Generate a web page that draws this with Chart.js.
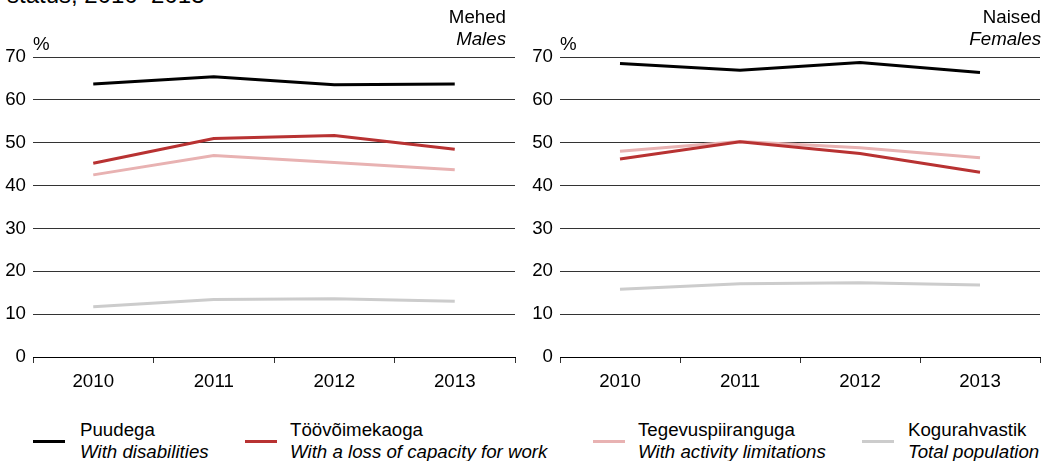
<!DOCTYPE html>
<html>
<head>
<meta charset="utf-8">
<script src="https://cdn.jsdelivr.net/npm/chart.js@4/dist/chart.umd.min.js"></script>
<style>
  html, body { margin: 0; padding: 0; background: #fff; }
  body { width: 1054px; height: 461px; position: relative; overflow: hidden;
         font-family: 'Liberation Sans', Arial, Helvetica, sans-serif; color: #000; }
  canvas { position: absolute; top: 0; }
  .title { position: absolute; left: 7px; top: -19px; font-size: 24px; line-height: 28px; white-space: nowrap; }
  .hdr { position: absolute; font-size: 18.7px; line-height: 22px; text-align: right; }
  .hdr i { display: block; }
  .pct { position: absolute; font-size: 18.7px; line-height: 20px; }
  .leg { position: absolute; top: 419px; font-size: 18.7px; line-height: 22px; white-space: nowrap; }
  .leg i { display: block; }
  .sw { position: absolute; top: 440px; width: 32px; height: 3px; }
</style>
</head>
<body>
<div class="title">status, 2010–2013</div>

<canvas id="males" width="527" height="400" style="left:0"></canvas>
<canvas id="females" width="527" height="400" style="left:527px"></canvas>

<div class="hdr" style="right:548px; top:6px">Mehed<i>Males</i></div>
<div class="hdr" style="right:13px; top:6px">Naised<i>Females</i></div>
<div class="pct" style="left:33px; top:34px">%</div>
<div class="pct" style="left:560px; top:34px">%</div>

<div id="legend"></div>

<script>
// Years on the x axis and y tick values
const years = ['2010', '2011', '2012', '2013'];
const yTickValues = [0, 10, 20, 30, 40, 50, 60, 70];

// Series names (Estonian / English)
const seriesNamesEt = ['Puudega', 'Töövõimekaoga', 'Tegevuspiiranguga', 'Kogurahvastik'];
const seriesNamesEn = ['With disabilities', 'With a loss of capacity for work', 'With activity limitations', 'Total population'];
const seriesColors = ['#000000', '#b83232', '#e8b2b2', '#cccccc'];

// Males, %
const malesDisabilities = [63.7, 65.4, 63.5, 63.7];
const malesLossCapacity = [45.2, 51.0, 51.7, 48.5];
const malesActivityLim = [42.5, 47.0, 45.4, 43.7];
const malesTotal = [11.7, 13.4, 13.6, 13.0];

// Females, %
const femalesDisabilities = [68.5, 66.9, 68.7, 66.4];
const femalesLossCapacity = [46.2, 50.2, 47.5, 43.1];
const femalesActivityLim = [48.0, 50.3, 48.8, 46.5];
const femalesTotal = [15.8, 17.1, 17.3, 16.8];

const FONT = "'Liberation Sans', Arial, Helvetica, sans-serif";
const FONT_SIZE = 18.7;

function makeDatasets(series) {
  return series.map((data, i) => ({
    label: seriesNamesEn[i],
    data: data,
    borderColor: seriesColors[i],
    backgroundColor: seriesColors[i],
    borderWidth: 3,
    pointRadius: 0,
    tension: 0,
    fill: false
  }));
}

function makeChart(id, series, padRight) {
  return new Chart(document.getElementById(id), {
    type: 'line',
    data: { labels: years, datasets: makeDatasets(series) },
    options: {
      responsive: false,
      animation: false,
      devicePixelRatio: 1,
      layout: { padding: { top: 57, right: padRight, left: 0, bottom: 0 } },
      plugins: { legend: { display: false }, tooltip: { enabled: false } },
      scales: {
        x: {
          type: 'category',
          offset: true,
          border: { display: true, color: '#000', width: 1 },
          grid: { drawOnChartArea: false, drawTicks: true, tickLength: 6, color: '#333', offset: true },
          ticks: { color: '#000', font: { family: FONT, size: FONT_SIZE }, padding: 8, maxRotation: 0 },
          afterFit: s => { s.height = 43; }
        },
        y: {
          min: 0, max: 70,
          border: { display: false },
          grid: { drawTicks: false, color: '#333', lineWidth: 1 },
          afterBuildTicks: s => { s.ticks = yTickValues.map(v => ({ value: v })); },
          ticks: { color: '#000', font: { family: FONT, size: FONT_SIZE }, padding: 7 },
          afterFit: s => { s.width = 33; }
        }
      }
    }
  });
}

makeChart('males', [malesDisabilities, malesLossCapacity, malesActivityLim, malesTotal], 12);
makeChart('females', [femalesDisabilities, femalesLossCapacity, femalesActivityLim, femalesTotal], 14);

// Legend below the two panels
const legendPos = [[33, 80], [245, 290], [593, 638], [862, 908]];
const legend = document.getElementById('legend');
seriesNamesEt.forEach((name, i) => {
  const sw = document.createElement('div');
  sw.className = 'sw';
  sw.style.left = legendPos[i][0] + 'px';
  sw.style.background = seriesColors[i];
  legend.appendChild(sw);
  const t = document.createElement('div');
  t.className = 'leg';
  t.style.left = legendPos[i][1] + 'px';
  t.innerHTML = name + '<i>' + seriesNamesEn[i] + '</i>';
  legend.appendChild(t);
});
</script>
</body>
</html>
